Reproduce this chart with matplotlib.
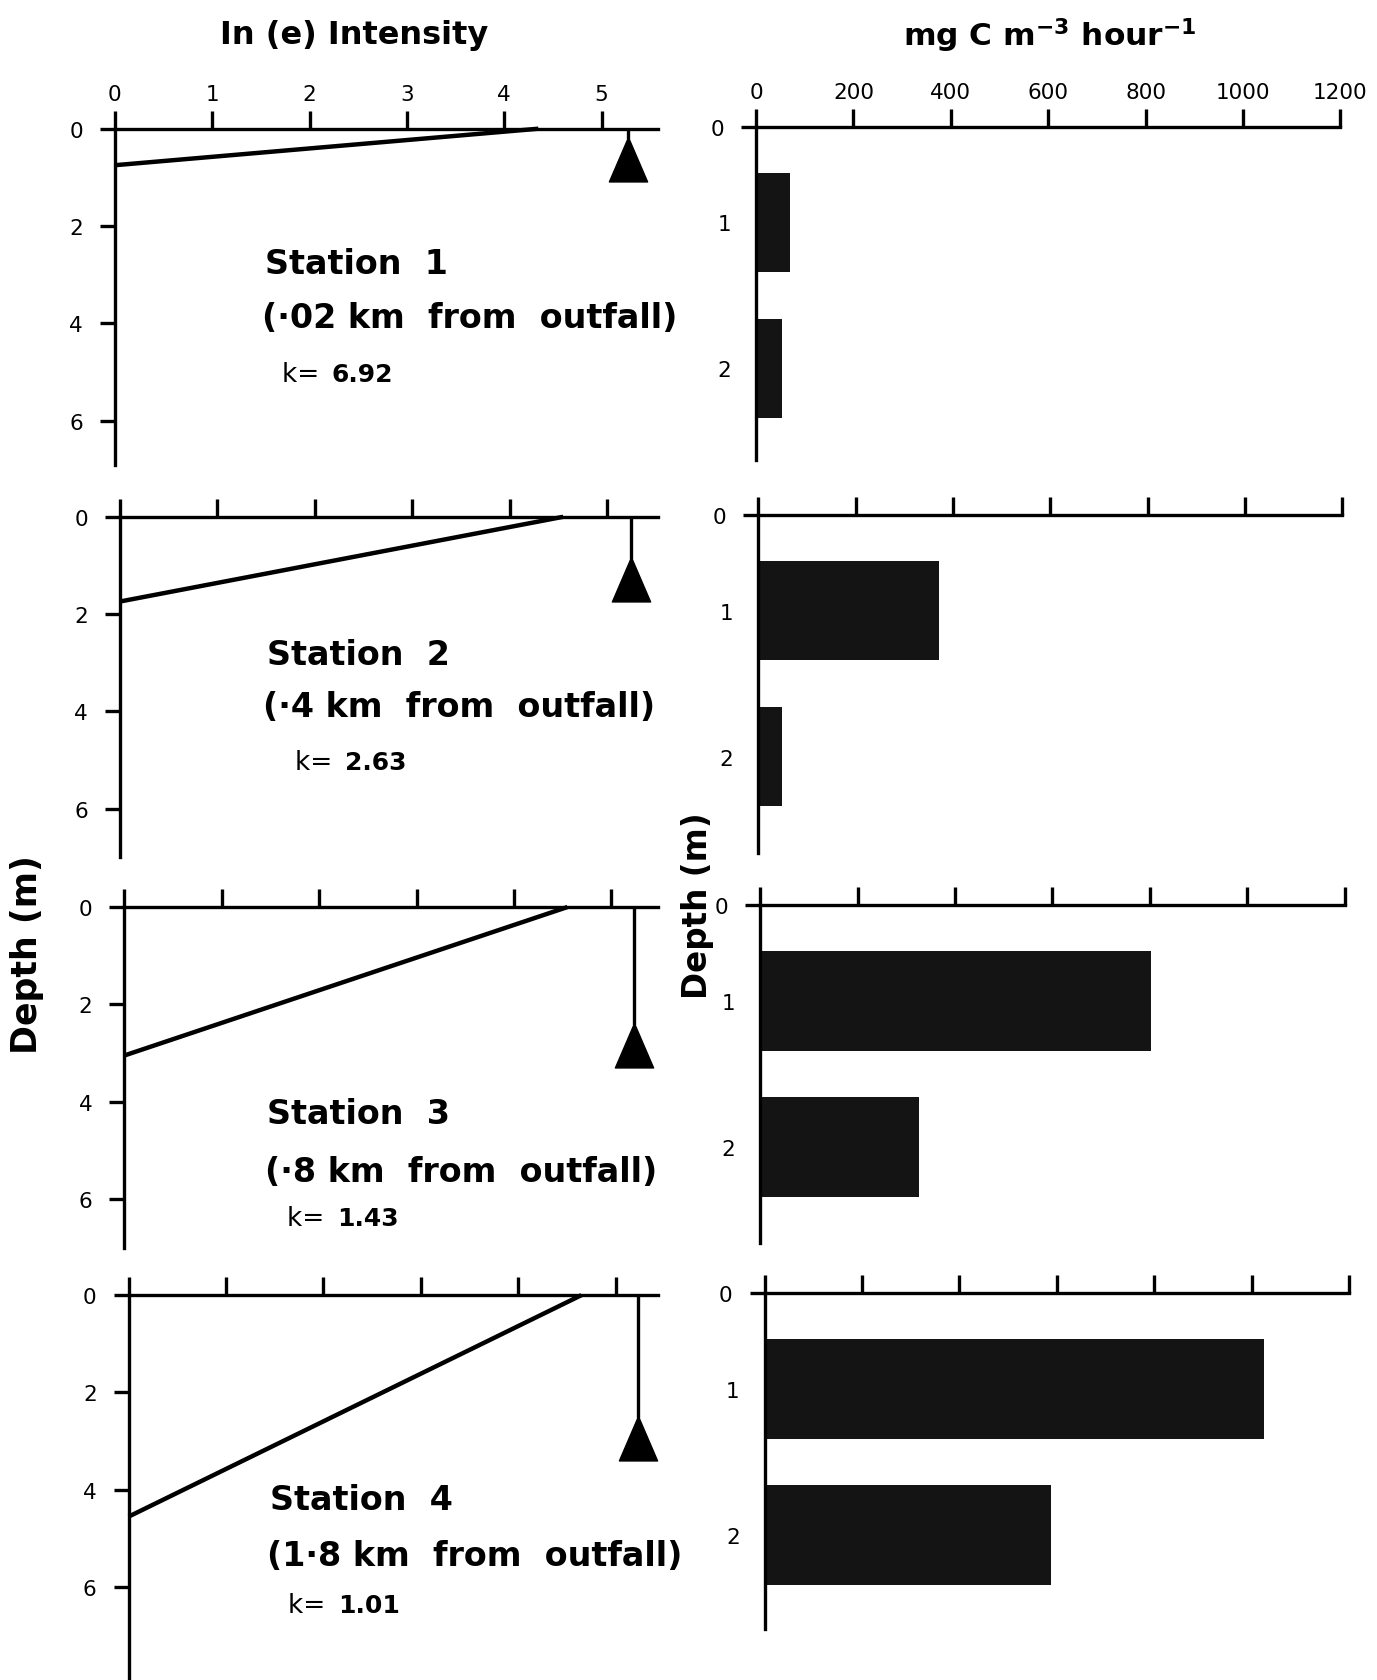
import numpy as np
import matplotlib
matplotlib.use('Agg')
import matplotlib.pyplot as plt
from matplotlib.path import Path

# --- data ---
stations = ['1', '2', '3', '4']
distances = ['·02', '·4', '·8', '1·8']
k_values = ['6.92', '2.63', '1.43', '1.01']
ln_surface = [4.35, 4.55, 4.55, 4.65]     # ln(I) at the surface
zero_depth = [0.75, 1.74, 3.05, 4.55]     # depth where ln(I) reaches 0
secchi_depth = [0.18, 0.82, 2.38, 2.48]   # top of the triangle marker
secchi_ln = [5.27, 5.25, 5.23, 5.23]

sample_labels = ['1', '2']
production = [[70, 53], [372, 48], [802, 326], [1026, 588]]

ln_ticks = [0, 1, 2, 3, 4, 5]
depth_ticks = [0, 2, 4, 6]
prod_ticks = [0, 200, 400, 600, 800, 1000, 1200]

# --- layout (reference pixel grid 1284 x 1568) ---
W, H = 1284.0, 1568.0
PX_LN = 90.8      # px per ln unit
PX_M = 45.4       # px per metre
PX_P = 90.8 / 200 # px per mg C

left_x0 = [107, 112, 116, 120]
left_top = [121, 483, 847, 1209]
left_bot = [435, 800, 1165, 1566]
left_x1 = 614

right_x0 = [705, 707, 709, 713]
right_top = [119, 481, 845, 1207]
right_bot = [430, 797, 1160, 1520]

text_pos = [((247, 247), (244, 297), (263, 350)),
            ((249, 611), (245, 660), (275, 712)),
            ((249, 1040), (247, 1094), (268, 1137)),
            ((252, 1400), (249, 1452), (269, 1498))]

plt.rcParams['font.family'] = ['DejaVu Sans']
LW = 2.4


def box(x0, x1, y0, y1):
    return [x0 / W, 1 - y1 / H, (x1 - x0) / W, (y1 - y0) / H]


def style(ax):
    for s in ['right', 'bottom']:
        ax.spines[s].set_visible(False)
    for s in ['left', 'top']:
        ax.spines[s].set_linewidth(LW)
    ax.xaxis.set_ticks_position('top')
    ax.tick_params(axis='x', direction='out', length=13, width=LW, pad=5, labelsize=15.5)
    ax.tick_params(axis='y', direction='out', length=11, width=LW, pad=12, labelsize=15.5)


# triangle with its apex at the data point
tri = Path([(0, 0), (-0.43, -1.0), (0.43, -1.0), (0, 0)],
           [Path.MOVETO, Path.LINETO, Path.LINETO, Path.CLOSEPOLY])

fig = plt.figure(figsize=(13.77, 16.81), dpi=100)
renderer = fig.canvas.get_renderer()

for i in range(4):
    # light profile panel
    ax = fig.add_axes(box(left_x0[i], left_x1, left_top[i], left_bot[i]))
    ax.set_xlim(0, (left_x1 - left_x0[i]) / PX_LN)
    ax.set_ylim((left_bot[i] - left_top[i]) / PX_M, 0)
    style(ax)
    ax.set_xticks(ln_ticks)
    ax.set_xticklabels(ln_ticks if i == 0 else [])
    ax.set_yticks(depth_ticks)
    ax.plot([0, ln_surface[i]], [zero_depth[i], 0], color='black', lw=3.2,
            solid_capstyle='butt', clip_on=False)
    ax.plot([secchi_ln[i], secchi_ln[i]], [0, secchi_depth[i]], color='black', lw=LW)
    ax.plot([secchi_ln[i]], [secchi_depth[i]], marker=tri, ms=64, color='black',
            clip_on=False)

    (sx, sy), (dx, dy), (kx, ky) = text_pos[i]
    fig.text(sx / W, 1 - sy / H, 'Station  ' + stations[i], fontsize=24,
             fontweight='bold', ha='left', va='center')
    fig.text(dx / W, 1 - dy / H, '(' + distances[i] + ' km  from  outfall)',
             fontsize=24, fontweight='bold', ha='left', va='center')
    kt = fig.text(kx / W, 1 - ky / H, 'k= ', fontsize=19, ha='left', va='center')
    bb = kt.get_window_extent(renderer).transformed(fig.transFigure.inverted())
    fig.text(bb.x1 + 0.003, 1 - ky / H, k_values[i], fontsize=18,
             fontweight='bold', ha='left', va='center')

    # production panel
    ax2 = fig.add_axes(box(right_x0[i], right_x0[i] + 1200 * PX_P,
                           right_top[i], right_bot[i]))
    ax2.set_xlim(0, 1200)
    ax2.set_ylim((right_bot[i] - right_top[i]) / PX_M, 0)
    style(ax2)
    ax2.set_xticks(prod_ticks)
    ax2.set_xticklabels(prod_ticks if i == 0 else [])
    ax2.set_yticks([0])
    centres = [1.97, 4.97]
    ax2.set_yticks(centres, minor=True)
    ax2.set_yticklabels(sample_labels, minor=True)
    ax2.tick_params(axis='y', which='minor', length=0, pad=18, labelsize=15.5)
    ax2.barh(centres, production[i], height=2.05, color='#141414', left=0)

fig.text(330 / W, 1 - 33 / H, 'In (e) Intensity', fontsize=23, fontweight='bold',
         ha='center', va='center')
fig.text(979 / W, 1 - 33 / H, r'mg C m$^{\mathbf{-3}}$ hour$^{\mathbf{-1}}$',
         fontsize=22.5, fontweight='bold', ha='center', va='center')
fig.text(25 / W, 1 - 890 / H, 'Depth (m)', fontsize=25, fontweight='bold',
         rotation=90, ha='center', va='center')
fig.text(650 / W, 1 - 845 / H, 'Depth (m)', fontsize=23.5, fontweight='bold',
         rotation=90, ha='center', va='center')

fig.savefig('out.png', dpi=100)
